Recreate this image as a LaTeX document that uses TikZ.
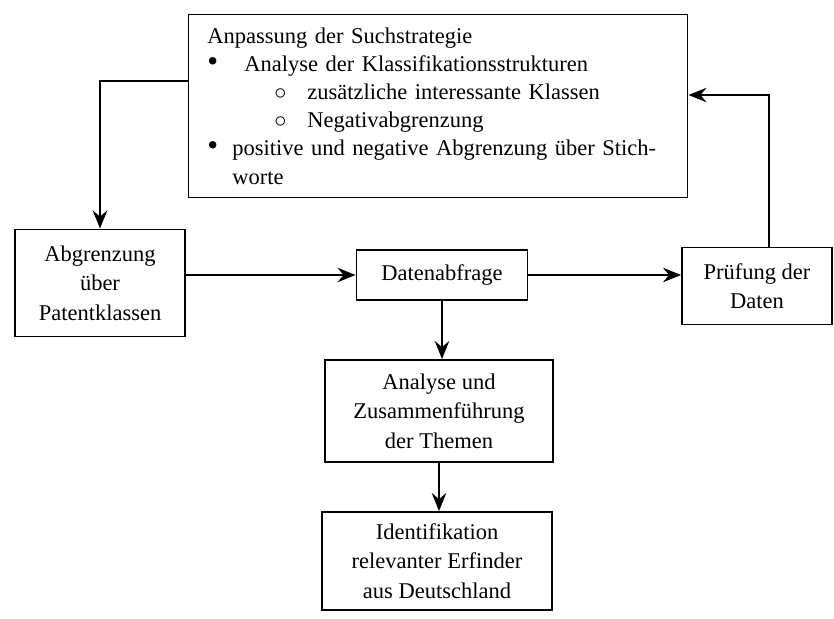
\documentclass[tikz,border=0pt]{standalone}
\usepackage{fontspec}
\setmainfont{Liberation Serif}
\usetikzlibrary{arrows, arrows.meta}
\usetikzlibrary{calc}

\newcommand{\dicker}{{\fontsize{22}{20}\selectfont\textbullet}}

\begin{document}
\begin{tikzpicture}[x=0.025cm, y=-0.025cm,
    kasten/.style={draw, line width=1.3pt, inner sep=0pt, align=center, font=\fontsize{16}{21}\selectfont},
    pfeil/.style={line width=1.3pt, -{Stealth[length=4.5mm, width=3.6mm, inset=1.5mm]}}]
      \useasboundingbox (0,0) rectangle (834,618);

      \node[kasten, minimum width=12.475cm, minimum height=4.575cm, text width=11.525cm, align=left, font=\fontsize{16}{20}\selectfont] (strategie) at (438,106) {%
        Anpassung der Suchstrategie\\
        \makebox[0.925cm][l]{\dicker}Analyse der Klassifikationsstrukturen\\
        \hspace*{1.675cm}\makebox[0.825cm][l]{$\circ$}zusätzliche interessante Klassen\\
        \hspace*{1.675cm}\makebox[0.825cm][l]{$\circ$}Negativabgrenzung\\
        \makebox[0.625cm][l]{\dicker}positive und negative Abgrenzung über Stich-\\
        \hspace*{0.625cm}worte};
      \node[kasten, minimum width=4.25cm, minimum height=2.675cm] (abgrenzung) at (100,283) {Abgrenzung\\über\\Patentklassen};
      \node[kasten, minimum width=4.275cm, minimum height=1.25cm] (abfrage) at (442,275) {Datenabfrage};
      \node[kasten, minimum width=3.75cm, minimum height=1.925cm] (pruefung) at (757,286) {Prüfung der\\Daten};
      \node[kasten, minimum width=5.7cm, minimum height=2.55cm] (analyse) at (439,411) {Analyse und\\Zusammenführung\\der Themen};
      \node[kasten, minimum width=5.75cm, minimum height=2.45cm] (erfinder) at (437,561) {Identifikation\\relevanter Erfinder\\aus Deutschland};

      \draw[pfeil] ([yshift=0.625cm]strategie.west) -| (abgrenzung.north);
      \draw[pfeil] (abgrenzung.east |- abfrage.west) -- (abfrage.west);
      \draw[pfeil] (abfrage.east) -- (abfrage.east -| pruefung.west);
      \draw[pfeil] ([xshift=0.3cm]pruefung.north) |- ([yshift=0.275cm]strategie.east);
      \draw[pfeil] (abfrage.south) -- (abfrage.south |- analyse.north);
      \draw[pfeil] (analyse.south) -- (analyse.south |- erfinder.north);
    \end{tikzpicture}
\end{document}
